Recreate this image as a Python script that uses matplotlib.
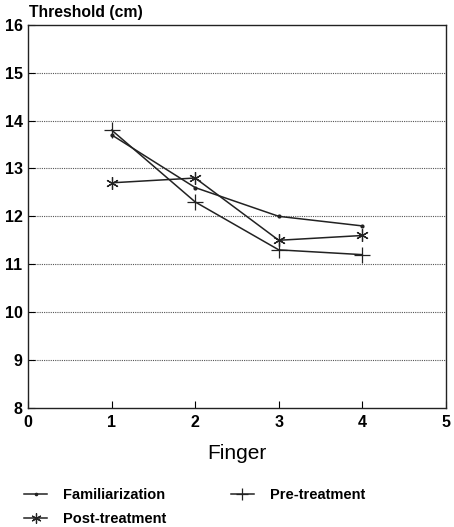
import numpy as np
import matplotlib.pyplot as plt

plt.rcParams['font.family'] = ['Liberation Sans', 'DejaVu Sans']

finger = [1, 2, 3, 4]
familiarization = [13.7, 12.6, 12.0, 11.8]
pre_treatment = [13.8, 12.3, 11.3, 11.2]
post_treatment = [12.7, 12.8, 11.5, 11.6]

fig = plt.figure(figsize=(4.54, 5.27), dpi=100)
ax = fig.add_axes([0.062, 0.226, 0.92, 0.727])

ax.plot(finger, familiarization, '-', color='#222222', lw=1.1, marker='o', ms=2,
        label='Familiarization')
ax.plot(finger, post_treatment, '-', color='#222222', lw=1.1, marker=(6, 2, 0), ms=9,
        mew=0.9, label='Post-treatment')
ax.plot(finger, pre_treatment, '-', color='#222222', lw=1.1, marker='+', ms=11,
        mew=0.9, label='Pre-treatment')

ax.set_xlim(0, 5)
ax.set_ylim(8, 16)
ax.set_xticks(range(0, 6))
ax.set_yticks(range(8, 17))
for y in range(9, 16):
    ax.axhline(y, color='#555555', lw=0.8, ls=(0, (1, 1)), zorder=0)
ax.tick_params(direction='in', length=5, width=0.8, labelsize=11.5, pad=5)
ax.tick_params(axis='y', pad=4)
for lab in ax.get_xticklabels() + ax.get_yticklabels():
    lab.set_fontweight('bold')
for s in ax.spines.values():
    s.set_linewidth(1.0)
    s.set_color('#222222')

ax.set_xlabel('Finger', fontsize=15, labelpad=10)
ax.text(0.003, 1.012, 'Threshold (cm)', transform=ax.transAxes, ha='left', va='bottom',
        fontsize=11.3, fontweight='bold')

leg = fig.legend(loc='lower left', bbox_to_anchor=(0.024, -0.023), ncol=2, frameon=False,
                 prop={'weight': 'bold', 'size': 10.5}, handlelength=1.6, handletextpad=1.1,
                 columnspacing=4.4, labelspacing=0.68, markerscale=0.8)

fig.savefig('out.png', dpi=100)
